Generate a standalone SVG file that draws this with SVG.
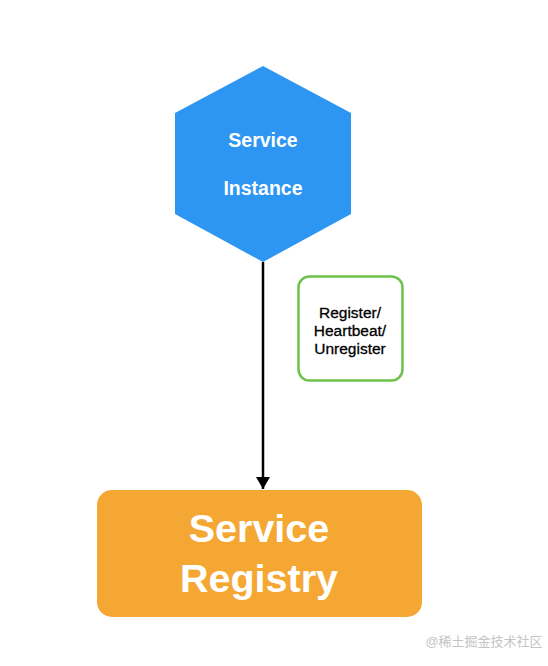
<svg xmlns="http://www.w3.org/2000/svg" width="548" height="666" viewBox="0 0 548 666">
<style>
.t{font-family:"Liberation Sans",Arial,Helvetica,sans-serif;text-anchor:middle}
.w{fill:#ffffff;font-weight:bold}
.b{fill:#000;stroke:#000;stroke-width:0.3;font-size:15.5px}
</style>
<defs>
<marker id="ah" markerWidth="12" markerHeight="14" refX="12" refY="7" orient="auto" markerUnits="userSpaceOnUse">
<path d="M0,0 L12,7 L0,14 Z" fill="#000"/>
</marker>
</defs>
<rect width="548" height="666" fill="#ffffff"/>
<g id="connectors">
<line x1="263" y1="262" x2="263" y2="489" stroke="#000" stroke-width="2.5" marker-end="url(#ah)"/>
</g>
<g id="service-instance">
<polygon points="263,66 351,113 351,214 263,262 175,214 175,113" fill="#2d95f2"/>
<text class="t w" x="263" y="147" font-size="19.5">Service</text>
<text class="t w" x="263" y="195" font-size="19.5">Instance</text>
</g>
<g id="label">
<rect x="298.5" y="276.5" width="104" height="104" rx="11" fill="#ffffff" stroke="#6cc24a" stroke-width="2.5"/>
<text class="t b" x="350" y="317.5">Register/</text>
<text class="t b" x="350" y="335.5">Heartbeat/</text>
<text class="t b" x="350" y="353.5">Unregister</text>
</g>
<g id="service-registry">
<rect x="97" y="490" width="325" height="127" rx="15" fill="#f5a733"/>
<text class="t w" x="259" y="542" font-size="39.5">Service</text>
<text class="t w" x="259" y="592" font-size="39.5">Registry</text>
</g>
<text x="484" y="646" font-family="'Liberation Sans','Noto Sans CJK SC',sans-serif" font-size="13" fill="#c4c4c4" text-anchor="middle">@稀土掘金技术社区</text>
</svg>
